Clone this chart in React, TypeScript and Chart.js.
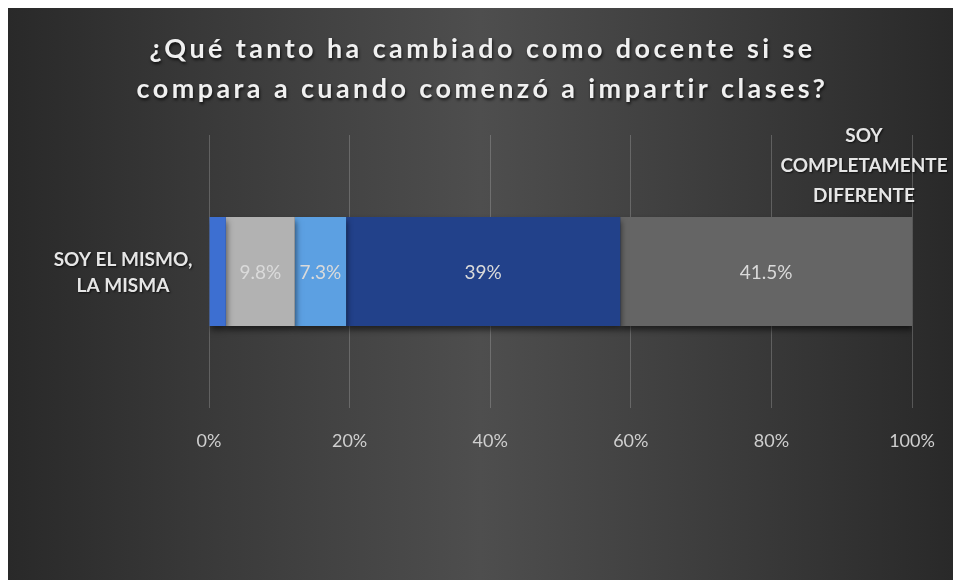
import React, { useEffect, useRef } from "react";
import { Chart, registerables } from "chart.js";

Chart.register(...registerables);

const titleLines = [
  "¿Qué tanto ha cambiado como docente si se",
  "compara a cuando comenzó a impartir clases?",
];
const categories = ["SOY EL MISMO, LA MISMA"];
const categoryLines = ["SOY EL MISMO,", "LA MISMA"];
const endLabelLines = ["SOY", "COMPLETAMENTE", "DIFERENTE"];
const seriesNames = ["1", "2", "3", "4", "5"];
const seriesValues = [2.4, 9.8, 7.3, 39, 41.5];
const seriesLabels = ["", "9.8%", "7.3%", "39%", "41.5%"];
const seriesColors = ["#3d6fd1", "#b2b2b2", "#5ca0e2", "#22418a", "#656565"];
const tickValues = [0, 20, 40, 60, 80, 100];

const FONT = "Lato, 'Open Sans', sans-serif";

const textPlugin = {
  id: "texts",
  beforeDatasetsDraw(chart: any) {
    const ctx = chart.ctx;
    ctx.save();
    ctx.shadowColor = "rgba(0,0,0,0.55)";
    ctx.shadowBlur = 6;
    ctx.shadowOffsetY = 4;
    ctx.shadowOffsetX = 1;
  },
  afterDatasetsDraw(chart: any) {
    chart.ctx.restore();
  },
  afterDraw(chart: any) {
    const ctx = chart.ctx;
    const area = chart.chartArea;
    const w = chart.width;
    ctx.save();
    // title
    ctx.textAlign = "center";
    ctx.textBaseline = "middle";
    ctx.fillStyle = "#f0f0f0";
    ctx.shadowColor = "rgba(0,0,0,0.7)";
    ctx.shadowBlur = 3;
    ctx.shadowOffsetX = 1;
    ctx.shadowOffsetY = 2;
    ctx.font = `bold 27px ${FONT}`;
    (ctx as any).letterSpacing = "3.4px";
    titleLines.forEach((t, i) => ctx.fillText(t, w / 2 + 2, 41 + i * 40));
    (ctx as any).letterSpacing = "0px";

    // category label
    ctx.font = `bold 19px ${FONT}`;
    ctx.fillStyle = "#e6e6e6";
    ctx.shadowBlur = 2;
    ctx.shadowOffsetY = 1;
    const meta0 = chart.getDatasetMeta(0);
    const cy = meta0.data[0].y;
    categoryLines.forEach((t, i) =>
      ctx.fillText(t, area.left - 86, cy - 12 + i * 26)
    );
    // end label
    endLabelLines.forEach((t, i) =>
      ctx.fillText(t, area.right - 48, area.top + 1 + i * 30)
    );

    // data labels
    ctx.shadowColor = "transparent";
    ctx.font = `19px ${FONT}`;
    ctx.fillStyle = "#dadada";
    chart.data.datasets.forEach((ds: any, i: number) => {
      const label = seriesLabels[i];
      if (!label) return;
      const el = chart.getDatasetMeta(i).data[0];
      const x = (el.x + el.base) / 2;
      ctx.fillText(label, x, el.y + 1);
    });
    ctx.restore();
  },
};

export default function App() {
  const ref = useRef<HTMLCanvasElement | null>(null);
  useEffect(() => {
    if (!ref.current) return;
    const chart = new Chart(ref.current, {
      type: "bar",
      data: {
        labels: categories,
        datasets: seriesNames.map((n, i) => ({
          label: n,
          data: [seriesValues[i]],
          backgroundColor: seriesColors[i],
          borderWidth: 0,
          categoryPercentage: 0.4,
          barPercentage: 1,
        })),
      },
      options: {
        indexAxis: "y",
        animation: false,
        responsive: true,
        maintainAspectRatio: false,
        layout: { padding: { top: 127, left: 201, right: 41, bottom: 0 } },
        plugins: {
          legend: { display: false },
          title: { display: false },
          tooltip: { enabled: false },
        },
        scales: {
          x: {
            stacked: true,
            min: 0,
            max: 100,
            afterBuildTicks: (s: any) => {
              s.ticks = tickValues.map((v) => ({ value: v }));
            },
            afterFit: (s: any) => {
              s.height = 172;
              s.paddingLeft = 0;
              s.paddingRight = 0;
            },
            ticks: {
              callback: (v: any) => `${v}%`,
              color: "#cfcfcf",
              font: { family: FONT, size: 18 },
              padding: 22,
            },
            grid: {
              color: "rgba(200,200,200,0.28)",
              lineWidth: 1,
              drawTicks: false,
            },
            border: { display: false },
          },
          y: {
            stacked: true,
            display: false,
          },
        },
      },
      plugins: [textPlugin],
    });
    return () => chart.destroy();
  }, []);
  return (
    <div
      style={{
        width: 945,
        height: 572,
        position: "relative",
        background:
          "linear-gradient(to right, #292929 0%, #3a3a3a 22%, #4e4e4e 50%, #3a3a3a 78%, #292929 100%)",
      }}
    >
      <canvas ref={ref} />
    </div>
  );
}
